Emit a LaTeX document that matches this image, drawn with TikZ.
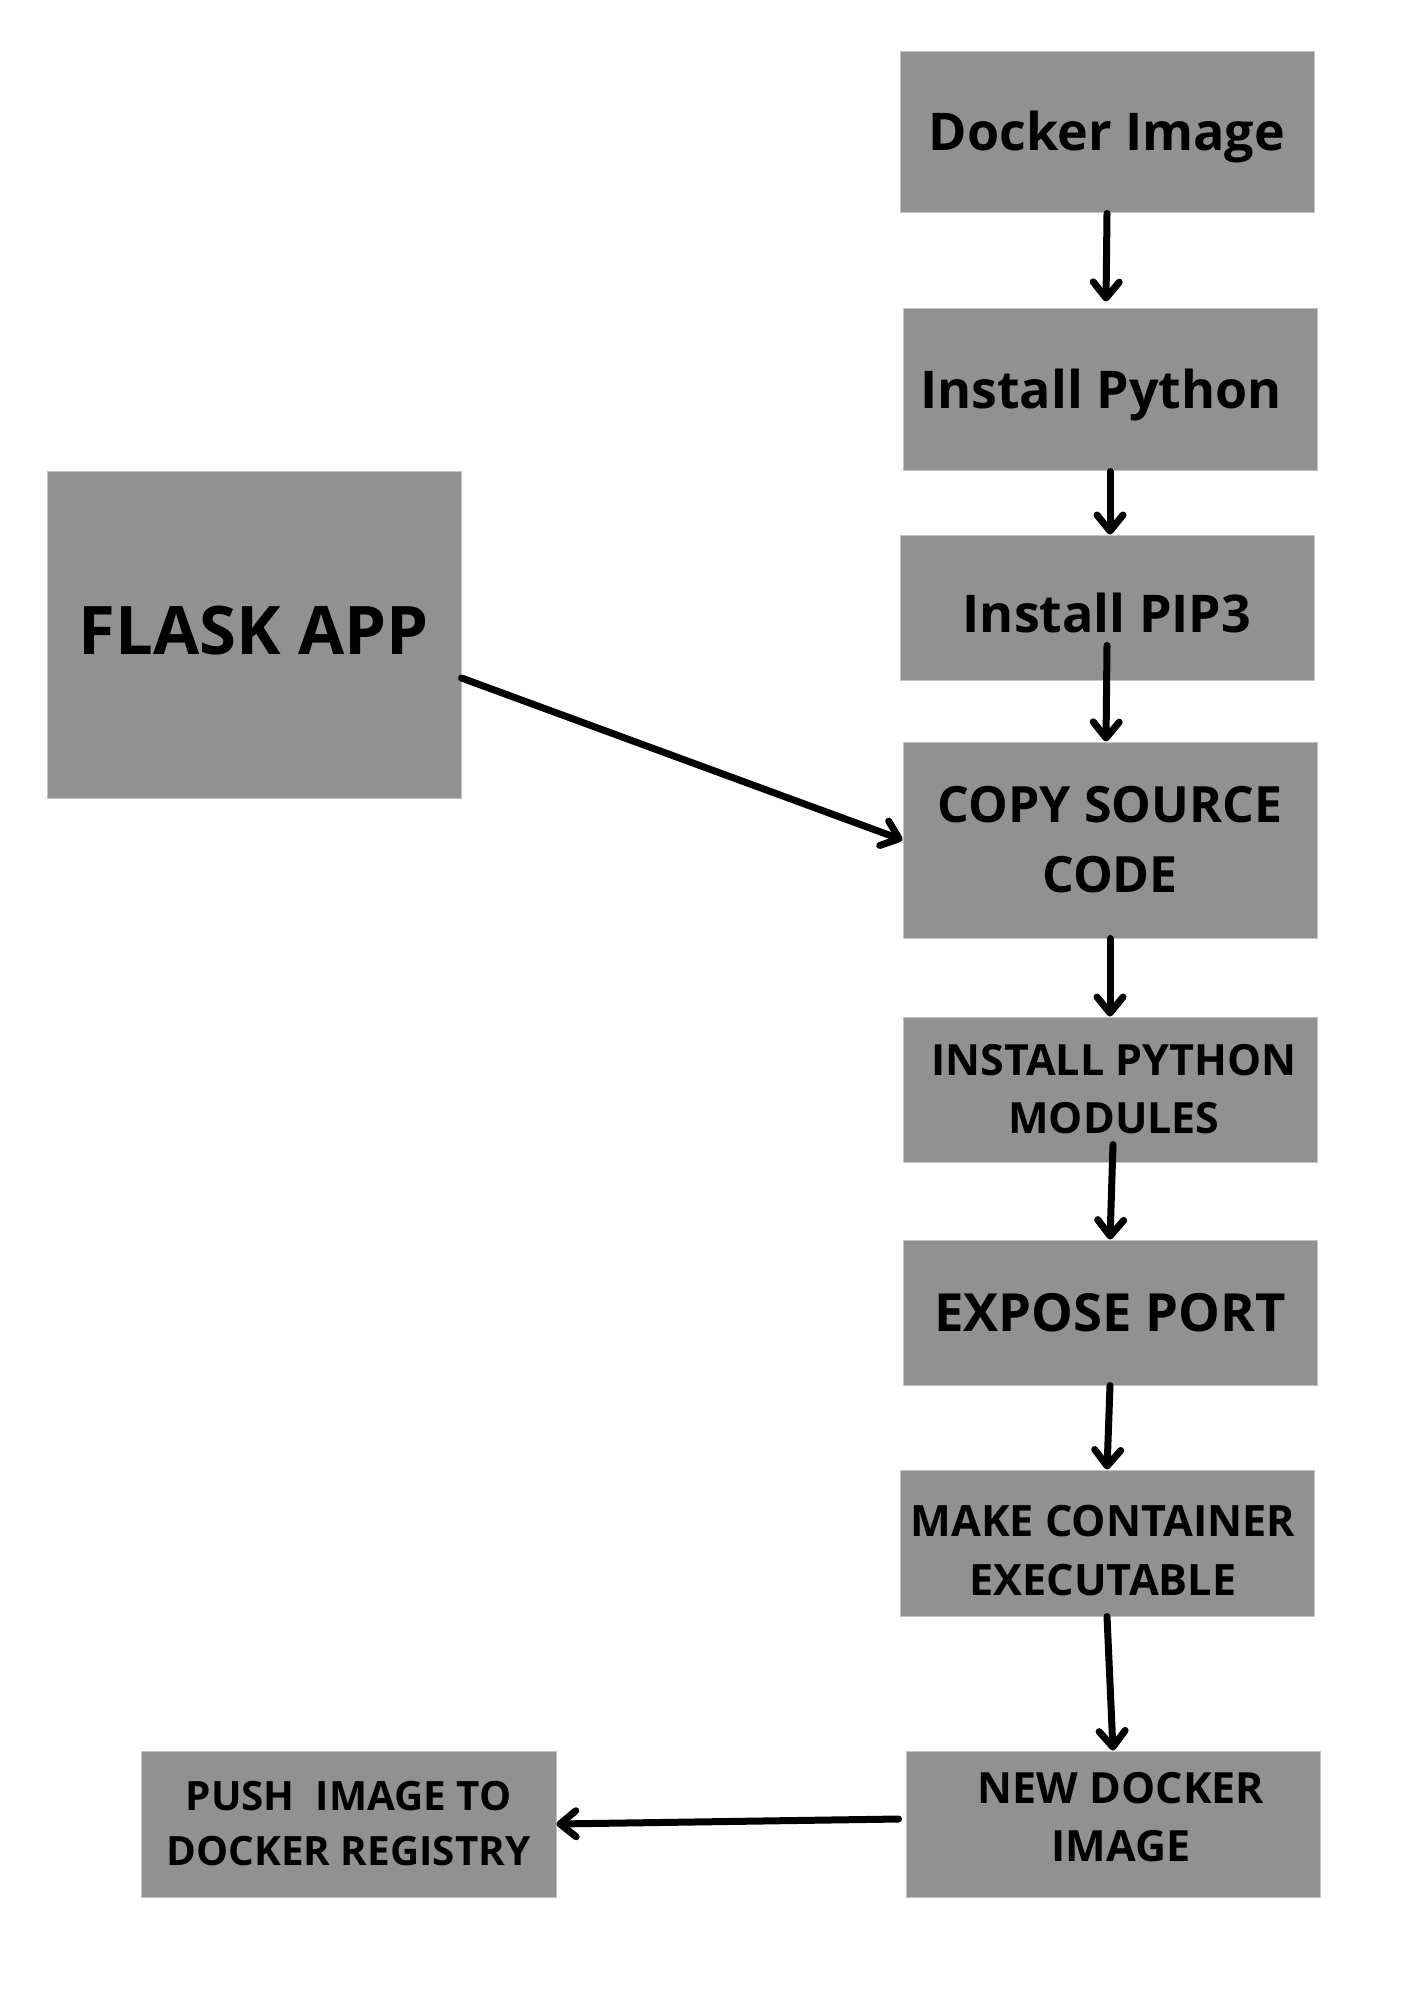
\documentclass[tikz,border=0pt]{standalone}
\usepackage{fontspec}
\setmainfont{Open Sans}
\usetikzlibrary{arrows.meta}
\definecolor{boxgray}{RGB}{145,145,145}
\definecolor{edgegray}{RGB}{196,196,196}
\begin{document}
\begin{tikzpicture}[x=0.5pt,y=-0.5pt,
  box/.style={fill=boxgray, draw=edgegray, line width=0.5pt, inner sep=0pt,
    align=center, minimum width=207pt, text=black},
  flow/.style={line width=3.5pt, line cap=round,
    -{Straight Barb[length=8pt,width=13pt,round]}}]
\useasboundingbox[fill=white] (0,0) rectangle (1414,2000);

\node[box, minimum height=80.6pt, font=\bfseries\fontsize{26}{35}\selectfont,
  text height=18.6pt, text depth=0pt] (dock) at (1107,132.4) {Docker Image};
\node[box, minimum height=81pt, font=\bfseries\fontsize{26}{35}\selectfont,
  text height=18.6pt, text depth=0pt] (py) at (1110,390) {Install Python\hspace*{9pt}};
\node[box, minimum height=72.5pt, font=\bfseries\fontsize{26}{35}\selectfont,
  text height=25.1pt, text depth=0pt] (pip) at (1107,607.5) {Install PIP3};
\node[box, minimum height=98pt, font=\bfseries\fontsize{25}{35}\selectfont,
  text height=52.8pt, text depth=0pt] (copy) at (1110,840) {COPY SOURCE\\CODE};
\node[box, minimum height=72.5pt, font=\bfseries\fontsize{21.5}{29}\selectfont,
  text height=44.4pt, text depth=0pt] (mod) at (1110,1089.5)
  {\hspace*{4pt}INSTALL PYTHON\\\hspace*{4pt}MODULES};
\node[box, minimum height=72.5pt, font=\bfseries\fontsize{26.3}{35}\selectfont,
  text height=18.8pt, text depth=0pt] (expose) at (1110,1312.5) {EXPOSE PORT};
\node[box, minimum height=73pt, font=\bfseries\fontsize{21.6}{29.5}\selectfont,
  text height=52.9pt, text depth=0pt] (make) at (1107,1543)
  {MAKE CONTAINER\hspace*{4pt}\\EXECUTABLE\hspace*{4pt}};
\node[box, minimum height=73pt, font=\bfseries\fontsize{21.5}{29}\selectfont,
  text height=44.4pt, text depth=6.5pt] (new) at (1113,1824)
  {\hspace*{8pt}NEW DOCKER\\\hspace*{8pt}IMAGE};
\node[box, minimum width=207.5pt, minimum height=73pt, font=\bfseries\fontsize{20.2}{27.5}\selectfont,
  text height=41.9pt, text depth=0pt] (push) at (348.5,1824) {PUSH\ \ IMAGE TO\\DOCKER REGISTRY};
\node[box, minimum height=163pt, font=\bfseries\fontsize{33.5}{40}\selectfont,
  text height=23.9pt, text depth=4pt] (flask) at (254,635) {FLASK APP};

\draw[flow] (dock.south) -- ([xshift=-2pt,yshift=3.5pt]py.north);
\draw[flow] (py.south) -- ([xshift=1.5pt]pip.north);
\draw[flow] ([yshift=17.5pt]pip.south) -- ([xshift=-2pt]copy.north);
\draw[flow] ([yshift=-21.5pt]flask.east) -- (copy.west);
\draw[flow] (copy.south) -- (mod.north);
\draw[flow] ([xshift=1.5pt,yshift=9pt]mod.south) -- (expose.north);
\draw[flow] (expose.south) -- (make.north);
\draw[flow] (make.south) -- (new.north);
\draw[flow] ([xshift=-3.5pt,yshift=2.5pt]new.west) -- (push.east);
\end{tikzpicture}
\end{document}
